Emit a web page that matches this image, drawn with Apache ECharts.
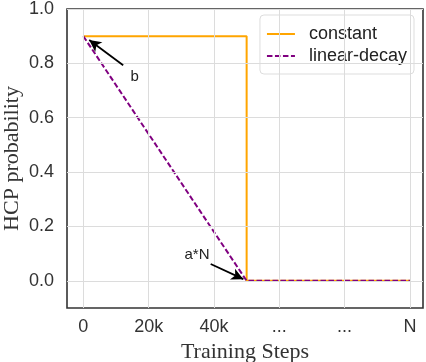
<!DOCTYPE html>
<html>
<head>
<meta charset="utf-8">
<script src="https://cdn.jsdelivr.net/npm/echarts@6/dist/echarts.min.js"></script>
<style>html,body{margin:0;padding:0;background:#fff}#c{width:426px;height:362px}</style>
</head>
<body>
<div id="c"></div>
<script>
// Data
const constantX = [0, 50000, 50000, 100000];
const constantY = [0.9, 0.9, 0.0, 0.0];
const decayX = [0, 50000, 100000];
const decayY = [0.9, 0.0, 0.0];
const xTickValues = [0, 20000, 40000, 60000, 80000, 100000];
const xTickLabels = ['0', '20k', '40k', '...', '...', 'N'];
const yTickValues = [0.0, 0.2, 0.4, 0.6, 0.8, 1.0];
// Annotations (data coordinates)
const arrowB = { from: [12200, 0.793], to: [1800, 0.886], text: 'b', textAt: [15700, 0.75] };
const arrowA = { from: [39000, 0.062], to: [49000, 0.006], text: 'a*N', textAt: [34800, 0.095] };

const pairs = (xs, ys) => xs.map((x, i) => [x, ys[i]]);

const chart = echarts.init(document.getElementById('c'), null, { renderer: 'canvas' });
const sans = 'Liberation Sans, Arial, sans-serif';
const serif = 'Liberation Serif, Times New Roman, serif';
const gridLines = [].concat(
  xTickValues.map(v => ({ xAxis: v })),
  yTickValues.map(v => ({ yAxis: v }))
);
chart.setOption({
  animation: false,
  backgroundColor: '#ffffff',
  grid: { left: 67, top: 9, right: 3, bottom: 54, outerBoundsMode: 'none', containLabel: false,
          show: true, borderColor: '#333333', borderWidth: 1.6, backgroundColor: 'transparent' },
  legend: {
    orient: 'vertical', right: 12, top: 15,
    padding: [10, 7, 9, 6], itemGap: 4,
    backgroundColor: '#ffffff', borderColor: '#dddddd', borderWidth: 1, borderRadius: 4,
    itemWidth: 28, itemHeight: 14,
    itemStyle: { opacity: 0 },
    textStyle: { fontFamily: sans, fontSize: 18, color: '#222', padding: [0, 0, 0, 9] },
    data: ['constant', 'linear-decay']
  },
  xAxis: {
    type: 'value', min: -5000, max: 104000,
    name: 'Training Steps', nameLocation: 'middle', nameGap: 33, nameMoveOverlap: false,
    nameTextStyle: { fontFamily: serif, fontSize: 22, color: '#333' },
    axisLine: { show: false }, axisTick: { show: false, customValues: xTickValues },
    axisLabel: {
      customValues: xTickValues, margin: 10, fontFamily: sans, fontSize: 18, color: '#333',
      formatter: v => { const i = xTickValues.indexOf(v); return i >= 0 ? xTickLabels[i] : ''; }
    },
    splitLine: { show: false }
  },
  yAxis: {
    type: 'value', min: -0.1, max: 1.0,
    name: 'HCP probability', nameLocation: 'middle', nameGap: 44, nameMoveOverlap: false,
    nameTextStyle: { fontFamily: serif, fontSize: 22, color: '#333' },
    axisLine: { show: false }, axisTick: { show: false, customValues: yTickValues },
    axisLabel: {
      customValues: yTickValues, margin: 13, fontFamily: sans, fontSize: 18, color: '#333',
      formatter: v => v.toFixed(1)
    },
    splitLine: { show: false }
  },
  series: [
    {
      name: 'gridlines', type: 'line', data: [], z: 0, silent: true,
      markLine: {
        silent: true, symbol: ['none', 'none'], label: { show: false },
        lineStyle: { color: '#dcdcdc', width: 1, type: 'solid' },
        data: gridLines
      }
    },
    {
      name: 'constant', type: 'line', data: pairs(constantX, constantY),
      showSymbol: false, symbol: 'none', z: 2,
      lineStyle: { color: '#FFA500', width: 2 }, itemStyle: { color: '#FFA500' }
    },
    {
      name: 'linear-decay', type: 'line', data: pairs(decayX, decayY),
      showSymbol: false, symbol: 'none', z: 3,
      lineStyle: { color: '#800080', width: 2, type: [5.5, 2.5] }, itemStyle: { color: '#800080' },
      markLine: {
        silent: true, symbol: ['none', 'arrow'], symbolSize: [9, 12],
        lineStyle: { color: '#000', width: 1.8, type: 'solid' },
        label: { show: false },
        data: [
          [{ coord: arrowB.from }, { coord: arrowB.to }],
          [{ coord: arrowA.from }, { coord: arrowA.to }]
        ]
      },
      markPoint: {
        silent: true, symbol: 'circle', symbolSize: 1, itemStyle: { color: 'rgba(0,0,0,0)' },
        label: { show: true, position: 'inside', fontFamily: sans, fontSize: 15, color: '#222' },
        data: [
          { coord: arrowB.textAt, value: arrowB.text, label: { formatter: arrowB.text } },
          { coord: arrowA.textAt, value: arrowA.text, label: { formatter: arrowA.text } }
        ]
      }
    }
  ]
});
</script>
</body>
</html>
